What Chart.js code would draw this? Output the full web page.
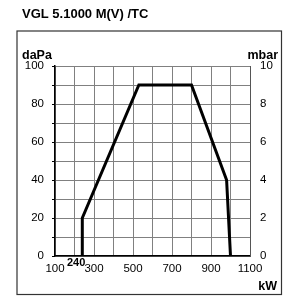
<!DOCTYPE html>
<html>
<head>
<meta charset="utf-8">
<script src="https://cdn.jsdelivr.net/npm/chart.js@4/dist/chart.umd.min.js"></script>
<style>
html,body{margin:0;padding:0;background:#fff;}
#wrap{position:relative;width:300px;height:300px;}
</style>
</head>
<body>
<div id="wrap"><canvas id="c" width="300" height="300"></canvas></div>
<script>
const chartTitle = "VGL 5.1000 M(V) /TC";
const leftUnit = "daPa";
const rightUnit = "mbar";
const xUnit = "kW";
const minPowerLabel = 240;
const powerKW = [240, 240, 530, 800, 980, 1000];
const pressureDaPa = [0, 20, 90, 90, 40, 0];
const xTickLabels = [100, 300, 500, 700, 900, 1100];
const yTickLabels = [0, 20, 40, 60, 80, 100];
const y2TickLabels = [0, 2, 4, 6, 8, 10];

const FONT = "Liberation Sans, Arial, sans-serif";

const overlay = {
  id: 'overlay',
  afterDraw(chart) {
    const ctx = chart.ctx;
    ctx.save();
    ctx.strokeStyle = '#333';
    ctx.lineWidth = 1.2;
    ctx.strokeRect(17, 31, 264.5, 263.5);
    ctx.fillStyle = '#000';
    ctx.textBaseline = 'alphabetic';
    ctx.font = 'bold 13px ' + FONT;
    ctx.textAlign = 'left';
    ctx.fillText(chartTitle, 22, 18);
    ctx.font = 'bold 12.5px ' + FONT;
    ctx.fillText(leftUnit, 22, 59);
    ctx.textAlign = 'right';
    ctx.fillText(rightUnit, 278, 59);
    ctx.fillText(xUnit, 277, 290);
    const xs = chart.scales.x;
    ctx.font = 'bold 11px ' + FONT;
    ctx.textAlign = 'right';
    ctx.fillText(String(minPowerLabel), xs.getPixelForValue(minPowerLabel) + 3, 266);
    ctx.restore();
  }
};

new Chart(document.getElementById('c'), {
  type: 'line',
  data: {
    datasets: [{
      data: powerKW.map((x, i) => ({x: x, y: pressureDaPa[i]})),
      borderColor: '#000',
      borderWidth: 3,
      pointRadius: 0,
      tension: 0,
      fill: false,
      yAxisID: 'y'
    }]
  },
  options: {
    responsive: false,
    animation: false,
    layout: {padding: {top: 66, left: 0, right: 0, bottom: 0}},
    plugins: {legend: {display: false}, tooltip: {enabled: false}, title: {display: false}},
    scales: {
      x: {
        type: 'linear', min: 100, max: 1100,
        afterFit(s) { s.height = 44; },
        ticks: {stepSize: 100, autoSkip: false, maxRotation: 0, padding: 6, color: '#000',
          font: {family: FONT, size: 11.5},
          callback: v => xTickLabels.includes(v) ? String(v) : ''},
        grid: {color: '#808080', lineWidth: 1, drawTicks: false},
        border: {color: '#000', width: 1.5}
      },
      y: {
        position: 'left', min: 0, max: 100,
        afterFit(s) { s.width = 55; },
        ticks: {stepSize: 10, autoSkip: false, padding: 8, color: '#000',
          font: {family: FONT, size: 11.5},
          callback: v => yTickLabels.includes(v) ? String(v) : ''},
        grid: {color: '#808080', lineWidth: 1, drawTicks: true, tickLength: 3, tickColor: '#000'},
        border: {color: '#000', width: 1.5}
      },
      y2: {
        position: 'right', min: 0, max: 10,
        afterFit(s) { s.width = 50; },
        ticks: {stepSize: 1, autoSkip: false, padding: 10, color: '#000',
          font: {family: FONT, size: 11.5},
          callback: v => y2TickLabels.includes(v) ? String(v) : ''},
        grid: {drawOnChartArea: false, drawTicks: false},
        border: {color: '#555', width: 1}
      }
    }
  },
  plugins: [overlay]
});
</script>
</body>
</html>
